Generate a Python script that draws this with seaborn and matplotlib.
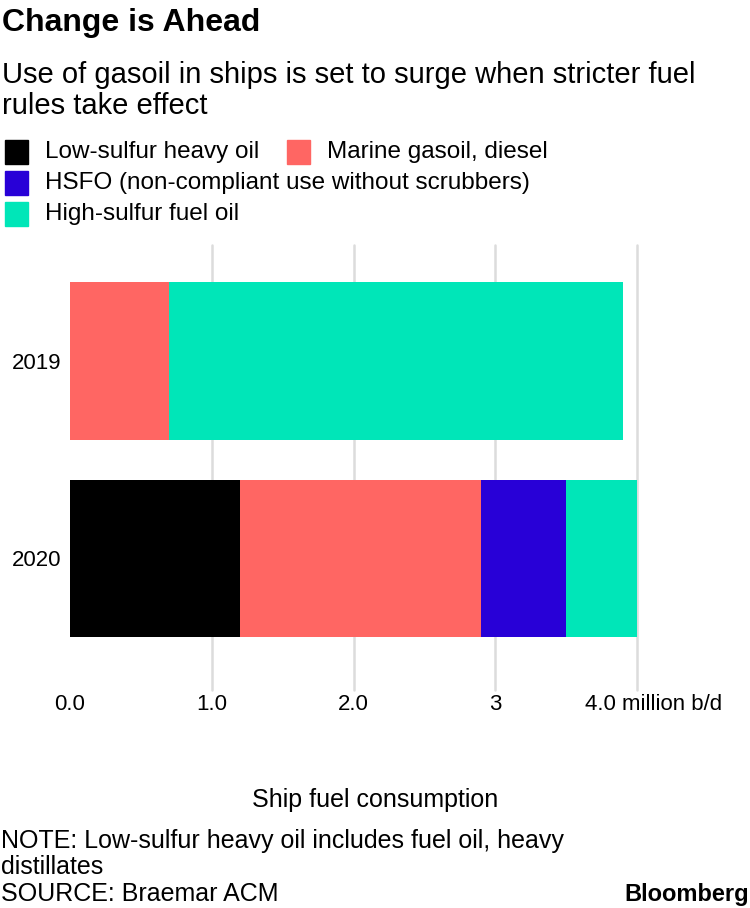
import matplotlib
matplotlib.use("Agg")
import matplotlib.pyplot as plt
import matplotlib.transforms as mtransforms
from matplotlib.patches import Rectangle
import seaborn as sns
import numpy as np

# data (million barrels per day)
years = ["2019", "2020"]
fuel_types = [
    "Low-sulfur heavy oil",
    "Marine gasoil, diesel",
    "HSFO (non-compliant use without scrubbers)",
    "High-sulfur fuel oil",
]
low_sulfur_heavy = [0.0, 1.2]
marine_gasoil = [0.7, 1.7]
hsfo_noncompliant = [0.0, 0.6]
high_sulfur = [3.2, 0.5]
x_ticks = [0, 1, 2, 3, 4]
x_tick_labels = ["0.0", "1.0", "2.0", "3", "4.0 million b/d"]

colors = ["#000000", "#ff6663", "#2800d7", "#00e6b8"]

sns.set_theme(style="white")
plt.rcParams["font.family"] = ["Liberation Sans", "DejaVu Sans"]
plt.rcParams["text.color"] = "black"

W, H = 750, 908
fig = plt.figure(figsize=(W / 100, H / 100), dpi=100)
ax = fig.add_axes([70 / W, (H - 690) / H, 567 / W, 445 / H])

series = [low_sulfur_heavy, marine_gasoil, hsfo_noncompliant, high_sulfur]
left = np.zeros(len(years))
for vals, c in zip(series, colors):
    sns.barplot(
        x=vals,
        y=years,
        orient="h",
        left=left,
        color=c,
        width=0.8,
        linewidth=0,
        saturation=1,
        ax=ax,
    )
    left = left + np.array(vals)

ax.set_xlim(0, 4)
ax.set_ylim(1.667, -0.59)
for s in ax.spines.values():
    s.set_visible(False)

ax.set_xticks(x_ticks)
ax.set_xticklabels(x_tick_labels)
ax.grid(axis="x", color="#dcdcdc", linewidth=1.8)
ax.grid(axis="y", visible=False)
ax.set_axisbelow(True)
for gl in ax.xaxis.get_gridlines():
    gl.set_clip_on(False)
ax.xaxis.get_gridlines()[0].set_visible(False)
ax.tick_params(axis="both", length=0, labelsize=16, colors="black")
ax.tick_params(axis="x", pad=3)
ax.tick_params(axis="y", pad=6.5)
last = ax.get_xticklabels()[-1]
last.set_transform(last.get_transform() + mtransforms.ScaledTranslation(0.17, 0, fig.dpi_scale_trans))
ax.set_xlabel("")
ax.set_ylabel("")

# titles
fig.text(2 / W, 1 - 31 / H, "Change is Ahead", fontsize=23, fontweight="bold", va="baseline")
fig.text(2 / W, 1 - 83 / H, "Use of gasoil in ships is set to surge when stricter fuel",
         fontsize=21, va="baseline")
fig.text(2 / W, 1 - 114 / H, "rules take effect", fontsize=21, va="baseline")

# legend
legend_items = [
    (fuel_types[0], colors[0], 5, 152),
    (fuel_types[1], colors[1], 287, 152),
    (fuel_types[2], colors[2], 5, 183),
    (fuel_types[3], colors[3], 5, 214),
]
for label, c, px, py in legend_items:
    fig.patches.append(Rectangle((px / W, 1 - (py + 11.5) / H), 23 / W, 23 / H,
                                 transform=fig.transFigure, color=c, figure=fig))
    fig.text((px + 40) / W, 1 - py / H, label, fontsize=17.5, va="center")

# footer
fig.text(375 / W, 1 - 807 / H, "Ship fuel consumption", fontsize=18, ha="center", va="baseline")
fig.text(1 / W, 1 - 848 / H, "NOTE: Low-sulfur heavy oil includes fuel oil, heavy", fontsize=18, va="baseline")
fig.text(1 / W, 1 - 874 / H, "distillates", fontsize=18, va="baseline")
fig.text(1 / W, 1 - 901 / H, "SOURCE: Braemar ACM", fontsize=18, va="baseline")
fig.text(749 / W, 1 - 901 / H, "Bloomberg", fontsize=17, fontweight="bold", ha="right", va="baseline")

fig.savefig("out.png", dpi=100)
